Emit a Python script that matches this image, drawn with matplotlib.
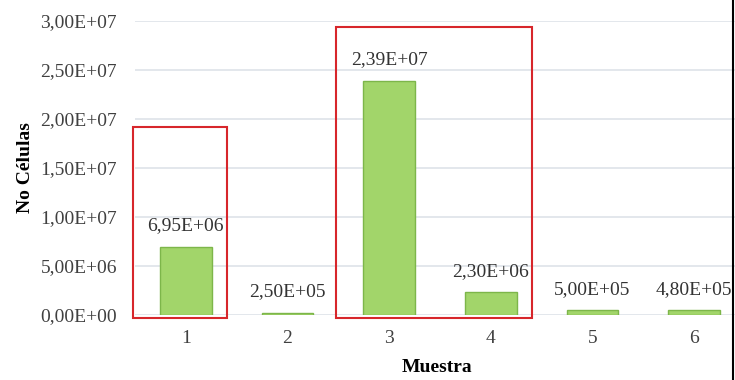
import matplotlib
matplotlib.use('Agg')
import matplotlib.pyplot as plt
from matplotlib.patches import Rectangle
from matplotlib.lines import Line2D
from matplotlib.ticker import FuncFormatter

muestras = ['1', '2', '3', '4', '5', '6']
celulas = [6.95e6, 2.50e5, 2.39e7, 2.30e6, 5.00e5, 4.80e5]
# groups of samples framed in red: (first sample, last sample, frame top)
grupos = [(1, 1, 1.92e7), (3, 4, 2.94e7)]

plt.rcParams['font.family'] = ['Liberation Serif', 'DejaVu Serif']


def sci_coma(v, pos=None):
    s = '%.2E' % v
    return s.replace('.', ',')


fig = plt.figure(figsize=(7.35, 3.8), dpi=100)
ax = fig.add_axes([0.1837, 0.171, 0.830, 0.774])

x = list(range(1, len(muestras) + 1))
ax.bar(x, celulas, width=0.51, color='#a2d56a', edgecolor='#7db64a', linewidth=1, zorder=3)

for xi, v in zip(x, celulas):
    ax.annotate(sci_coma(v), (xi, v), xytext=(0, 15), textcoords='offset points',
                ha='center', va='center', fontsize=14, color='#333333',
                annotation_clip=False)

for a, b, top in grupos:
    r = Rectangle((a - 0.522, -3e5), (b + 0.40) - (a - 0.522), top + 3e5,
                  fill=False, edgecolor='#d7262b', linewidth=1.5, zorder=4, clip_on=False)
    ax.add_patch(r)

ax.set_xlim(0.5, 6.5)
ax.set_ylim(0, 3e7)
ax.set_yticks([0, 5e6, 1e7, 1.5e7, 2e7, 2.5e7, 3e7])
ax.yaxis.set_major_formatter(FuncFormatter(sci_coma))
ax.set_xticks(x)
ax.set_xticklabels(muestras)
ax.tick_params(axis='both', length=0, labelsize=14, labelcolor='#404040')
ax.tick_params(axis='y', pad=13)
ax.tick_params(axis='x', pad=11)
ax.grid(axis='y', color='#e0e5ea', linewidth=1.3, zorder=0)
for s in ax.spines.values():
    s.set_visible(False)

ax.set_ylabel('No Células', fontsize=14, fontweight='bold')
ax.yaxis.set_label_coords(-0.165, 0.5)
ax.set_xlabel('Muestra', fontsize=14, fontweight='bold')
ax.xaxis.set_label_coords(0.495, -0.18)
ax.xaxis.label.set_va('center')

fig.add_artist(Line2D([0.997, 0.997], [0, 1], color='black', linewidth=1.5))

fig.savefig('out.png', dpi=100)
